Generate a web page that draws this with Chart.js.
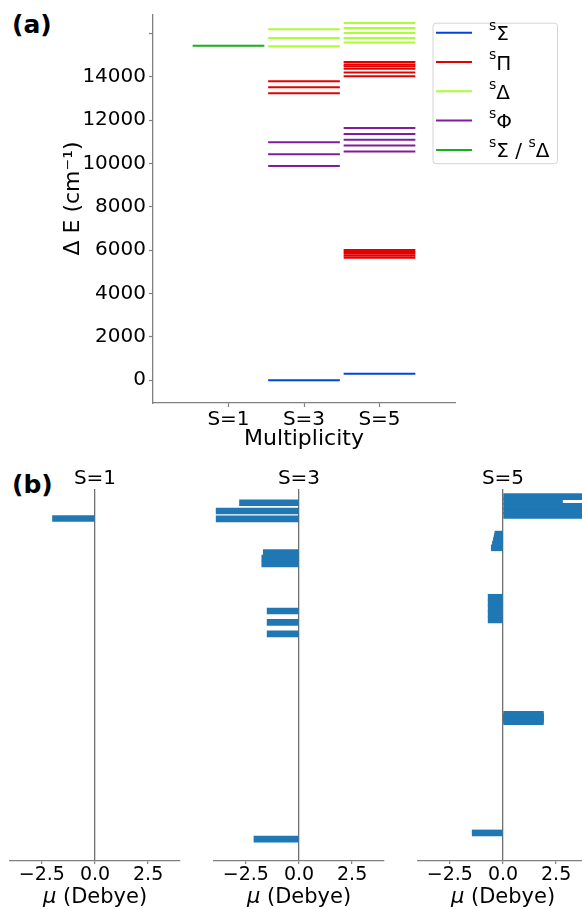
<!DOCTYPE html>
<html>
<head>
<meta charset="utf-8">
<script src="https://cdn.jsdelivr.net/npm/chart.js"></script>
<style>
  html, body { margin: 0; padding: 0; background: #fff; overflow: hidden; width: 582px; height: 909px; }
  #wrap { position: relative; width: 582px; height: 909px; overflow: hidden; }
  canvas { position: absolute; }
  .panel { position: absolute; left: 12px; font: bold 25px "DejaVu Sans"; line-height: 25px; color: #000; }
</style>
</head>
<body>
<div id="wrap">
  <div class="panel" style="top:12px">(a)</div>
  <div class="panel" style="top:472px">(b)</div>
  <canvas id="levels" width="582" height="456" style="left:0;top:0"></canvas>
  <canvas id="mu1" width="200" height="449" style="left:0;top:460px"></canvas>
  <canvas id="mu3" width="200" height="449" style="left:200px;top:460px"></canvas>
  <canvas id="mu5" width="200" height="449" style="left:400px;top:460px"></canvas>
</div>
<script>
const multiplicities = [1, 3, 5];
const multLabels = ['S=1', 'S=3', 'S=5'];
const energyTicks = [0, 2000, 4000, 6000, 8000, 10000, 12000, 14000, 16000];
const energyTickLabels = ['0', '2000', '4000', '6000', '8000', '10000', '12000', '14000', ''];
const muTicks = [-2.5, 0, 2.5];
const muTickLabels = ['\u22122.5', '0.0', '2.5'];

// level energies, cm-1
const mixS1 = [15430];
const sigmaS3 = [0];
const piS3 = [13240, 13520, 13790];
const deltaS3 = [15410, 15790, 16190];
const phiS3 = [9880, 10430, 10980];
const sigmaS5 = [300];
const piS5 = [5650, 5740, 5830, 5920, 6010, 14020, 14200, 14370, 14480, 14570, 14680];
const deltaS5 = [15580, 15790, 16020, 16250, 16480];
const phiS5 = [10550, 10830, 11100, 11360, 11640];

// dipole moments, Debye (same order as the energies)
const muMixS1 = [-2.0];
const muSigmaS3 = [-2.12];
const muPiS3 = [-1.75, -1.75, -1.68];
const muDeltaS3 = [-3.9, -3.9, -2.8];
const muPhiS3 = [-1.5, -1.5, -1.5];
const muSigmaS5 = [-1.45];
const muPiS5 = [1.9, 1.9, 1.9, 1.9, 1.9, -0.55, -0.5, -0.45, -0.42, -0.4, -0.38];
const muDeltaS5 = [4.5, 4.3, 4.2, 2.8, 4.4];
const muPhiS5 = [-0.7, -0.7, -0.7, -0.7, -0.7];

const legendLabels = ['^s\u03A3', '^s\u03A0', '^s\u0394', '^s\u03A6', '^s\u03A3 / ^s\u0394'];

const colSigma = '#0343df';
const colPi = '#e50000';
const colDelta = '#aaff32';
const colPhi = '#7e1e9c';
const colMix = '#15b01a';
const legendColors = [colSigma, colPi, colDelta, colPhi, colMix];
const barColor = '#1f77b4';
const spineColor = '#808080';
const FONT = '"DejaVu Sans"';

Chart.defaults.font.family = 'DejaVu Sans';
Chart.defaults.color = '#000';

const halfWidth = 0.95;
function levelSets(energies, mult, color) {
  return energies.map(e => ({
    data: [{x: mult - halfWidth, y: e}, {x: mult + halfWidth, y: e}],
    borderColor: color, borderWidth: 2, pointRadius: 0, showLine: true,
    borderCapStyle: 'butt', fill: false
  }));
}

const levelDatasets = [].concat(
  levelSets(mixS1, 1, colMix),
  levelSets(sigmaS3, 3, colSigma), levelSets(piS3, 3, colPi),
  levelSets(deltaS3, 3, colDelta), levelSets(phiS3, 3, colPhi),
  levelSets(sigmaS5, 5, colSigma), levelSets(piS5, 5, colPi),
  levelSets(deltaS5, 5, colDelta), levelSets(phiS5, 5, colPhi)
);

// legend box with superscript labels, placed like the matplotlib one
const levelLegend = {
  id: 'levelLegend',
  afterDraw(chart) {
    const ctx = chart.ctx;
    const a = chart.chartArea;
    const x0 = a.right - 22.5, y0 = a.top + 7.7, w = 124.5, h = 140.5;
    ctx.save();
    ctx.beginPath();
    ctx.roundRect(x0 + 0.5, y0 + 0.5, w, h, 3);
    ctx.fillStyle = 'rgba(255,255,255,0.8)';
    ctx.fill();
    ctx.strokeStyle = '#d4d4d4';
    ctx.lineWidth = 1;
    ctx.stroke();
    legendLabels.forEach((lab, i) => {
      const ry = y0 + 10 + i * 29.3;
      ctx.beginPath();
      ctx.moveTo(x0 + 3.5, ry);
      ctx.lineTo(x0 + 39.5, ry);
      ctx.strokeStyle = legendColors[i];
      ctx.lineWidth = 2;
      ctx.stroke();
      let x = x0 + 56.5;
      ctx.fillStyle = '#000';
      ctx.textAlign = 'left';
      ctx.textBaseline = 'alphabetic';
      for (let k = 0; k < lab.length; k++) {
        if (lab[k] === '^') {
          k++;
          ctx.font = '14px ' + FONT;
          ctx.fillText(lab[k], x, ry - 2.7);
          x += ctx.measureText(lab[k]).width;
        } else {
          ctx.font = '20px ' + FONT;
          ctx.fillText(lab[k], x, ry + 7.5);
          x += ctx.measureText(lab[k]).width;
        }
      }
    });
    // y axis title
    ctx.translate(73, (a.top + a.bottom) / 2 - 10.5);
    ctx.rotate(-Math.PI / 2);
    ctx.font = '22px ' + FONT;
    ctx.textAlign = 'center';
    ctx.textBaseline = 'middle';
    ctx.fillText('\u0394 E (cm\u207B\u00B9)', 0, 0);
    ctx.restore();
  }
};

new Chart(document.getElementById('levels'), {
  type: 'scatter',
  data: {datasets: levelDatasets},
  options: {
    responsive: false,
    animation: false,
    layout: {padding: {top: 13, right: 127, left: 0, bottom: 0}},
    plugins: {legend: {display: false}, tooltip: {enabled: false}},
    scales: {
      x: {
        type: 'linear', min: -1, max: 7,
        afterBuildTicks: s => { s.ticks = multiplicities.map(v => ({value: v})); },
        ticks: {callback: (v, i) => multLabels[i], font: {size: 20}, color: '#000', padding: 1, maxRotation: 0, autoSkip: false},
        grid: {drawOnChartArea: false, tickLength: 4, tickColor: spineColor, tickWidth: 1.2},
        border: {display: true, color: spineColor, width: 1.3},
        title: {display: true, text: 'Multiplicity', font: {size: 22}, color: '#000', padding: {top: 0, bottom: 4}},
        afterFit: s => { s.height = 53; }
      },
      y: {
        type: 'linear', min: -1050, max: 16850,
        afterBuildTicks: s => { s.ticks = energyTicks.map(v => ({value: v})); },
        ticks: {callback: (v, i) => energyTickLabels[i], font: {size: 20}, color: '#000', padding: 3, autoSkip: false},
        grid: {drawOnChartArea: false, tickLength: 4, tickColor: spineColor, tickWidth: 1.2},
        border: {display: true, color: spineColor, width: 1.3},
        afterFit: s => { s.width = 153; }
      }
    }
  },
  plugins: [levelLegend]
});

// x axis title with an italic mu
const muTitle = {
  id: 'muTitle',
  afterDraw(chart) {
    const ctx = chart.ctx;
    const a = chart.chartArea;
    const cx = (a.left + a.right) / 2;
    const y = chart.height - 6;
    ctx.save();
    ctx.fillStyle = '#000';
    ctx.textAlign = 'left';
    ctx.textBaseline = 'alphabetic';
    ctx.font = 'oblique 21px ' + FONT;
    const w1 = ctx.measureText('\u03BC').width;
    ctx.font = '21px ' + FONT;
    const w2 = ctx.measureText(' (Debye)').width;
    const x = cx - (w1 + w2) / 2;
    ctx.font = 'oblique 21px ' + FONT;
    ctx.fillText('\u03BC', x, y);
    ctx.font = '21px ' + FONT;
    ctx.fillText(' (Debye)', x + w1, y);
    ctx.restore();
  }
};

function muChart(id, title, energies, mus, padL, padR) {
  const data = [];
  energies.forEach((list, k) => list.forEach((e, i) => data.push({x: mus[k][i], y: e})));
  new Chart(document.getElementById(id), {
    type: 'bar',
    data: {datasets: [{data: data, backgroundColor: barColor, borderWidth: 0, barThickness: 6}]},
    options: {
      indexAxis: 'y',
      responsive: false,
      animation: false,
      layout: {padding: {left: padL, right: padR, top: 0, bottom: 0}},
      plugins: {
        legend: {display: false}, tooltip: {enabled: false},
        title: {display: true, text: title, font: {size: 20, weight: 'normal', lineHeight: 1}, color: '#000', padding: {top: 9, bottom: 0}}
      },
      scales: {
        x: {
          type: 'linear', min: -4, max: 4,
          afterBuildTicks: s => { s.ticks = muTicks.map(v => ({value: v})); },
          ticks: {callback: (v, i) => muTickLabels[i], font: {size: 19}, color: '#000', padding: 0, maxRotation: 0, autoSkip: false},
          grid: {
            color: c => (c.tick && c.tick.value === 0) ? '#707070' : 'rgba(0,0,0,0)',
            lineWidth: 1.3, tickLength: 3, tickColor: spineColor, tickWidth: 1.2
          },
          border: {display: true, color: spineColor, width: 1.3},
          afterFit: s => { s.height = 48; }
        },
        y: {type: 'linear', display: false, offset: false, min: -1050, max: 16850}
      }
    },
    plugins: [muTitle]
  });
}

muChart('mu1', multLabels[0], [mixS1], [muMixS1], 10, 20);
muChart('mu3', multLabels[1], [sigmaS3, piS3, deltaS3, phiS3], [muSigmaS3, muPiS3, muDeltaS3, muPhiS3], 14, 16);
muChart('mu5', multLabels[2], [sigmaS5, piS5, deltaS5, phiS5], [muSigmaS5, muPiS5, muDeltaS5, muPhiS5], 18, 12);
</script>
</body>
</html>
